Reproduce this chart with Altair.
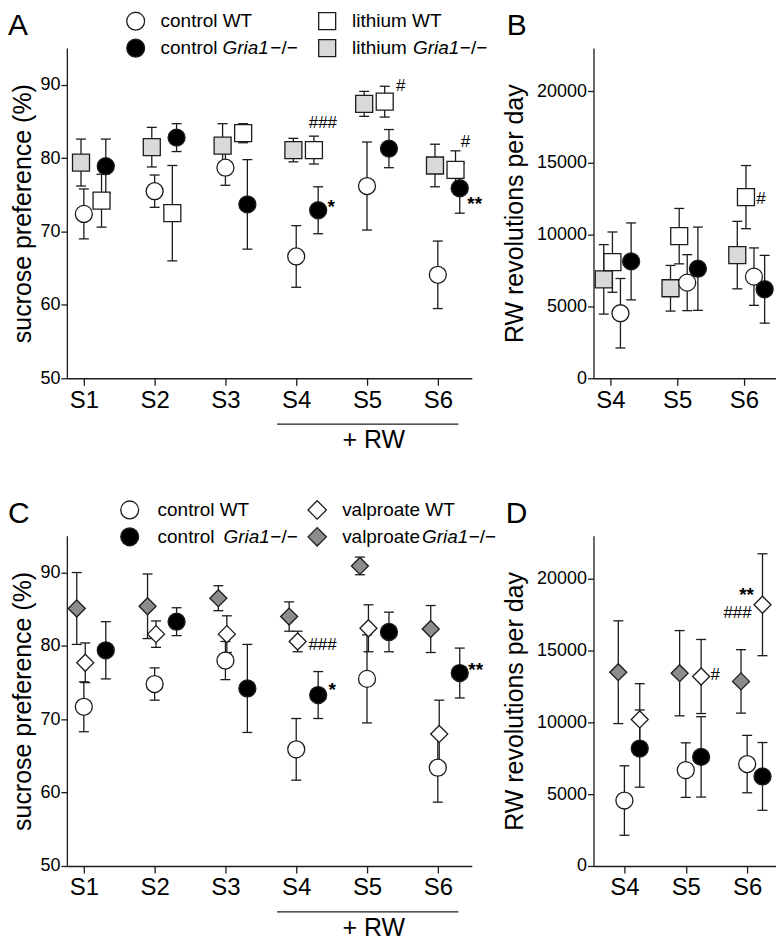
import altair as alt
import pandas as pd

FONT = "Liberation Sans"
INK = "#1c1c1c"

# ---------------- data ----------------
sessions = ["S1", "S2", "S3", "S4", "S5", "S6"]
rw_sessions = ["S4", "S5", "S6"]
rw_label = "+ RW"

group_labels = ["control WT", "control Gria1", "lithium WT", "lithium Gria1",
                "valproate WT", "valproate Gria1"]

# Panel A - sucrose preference (%), lithium experiment
a_control_wt = [72.4, 75.5, 78.7, 66.6, 76.2, 64.1]
a_control_wt_sem = [3.4, 2.2, 2.4, 4.2, 6.0, 4.6]
a_control_ko = [78.9, 82.8, 73.7, 72.9, 81.3, 75.9]
a_control_ko_sem = [3.7, 1.9, 6.1, 3.2, 2.6, 3.4]
a_lithium_wt = [74.2, 72.5, 83.4, 81.1, 87.7, 78.4]
a_lithium_wt_sem = [3.6, 6.5, 1.3, 1.9, 2.1, 2.6]
a_lithium_ko = [79.4, 81.5, 81.7, 81.1, 87.4, 79.0]
a_lithium_ko_sem = [3.2, 2.7, 3.0, 1.6, 1.7, 2.9]

# Panel B - RW revolutions per day, lithium experiment
b_control_wt = [4530, 6660, 7080]
b_control_wt_sem = [2420, 1950, 2000]
b_control_ko = [8140, 7630, 6200]
b_control_ko_sem = [2680, 2900, 2360]
b_lithium_wt = [8090, 9900, 12620]
b_lithium_wt_sem = [2100, 1930, 2200]
b_lithium_ko = [6890, 6270, 8580]
b_lithium_ko_sem = [2420, 1590, 2350]

# Panel C - sucrose preference (%), valproate experiment
c_control_wt = [71.7, 74.8, 78.0, 65.9, 75.5, 63.4]
c_control_wt_sem = [3.4, 2.2, 2.6, 4.2, 6.0, 4.7]
c_control_ko = [79.4, 83.3, 74.2, 73.3, 81.9, 76.3]
c_control_ko_sem = [3.9, 1.9, 6.0, 3.2, 2.7, 3.4]
c_valproate_wt = [77.7, 81.6, 81.6, 80.6, 82.4, 68.0]
c_valproate_wt_sem = [2.7, 1.8, 2.5, 1.4, 3.2, 4.6]
c_valproate_ko = [85.1, 85.4, 86.5, 84.0, 90.9, 82.3]
c_valproate_ko_sem = [4.9, 4.4, 1.7, 2.0, 1.2, 3.2]

# Panel D - RW revolutions per day, valproate experiment
d_control_wt = [4560, 6680, 7100]
d_control_wt_sem = [2420, 1900, 2000]
d_control_ko = [8180, 7600, 6240]
d_control_ko_sem = [2690, 2800, 2360]
d_valproate_wt = [10210, 13200, 18200]
d_valproate_wt_sem = [2490, 2580, 3550]
d_valproate_ko = [13500, 13430, 12860]
d_valproate_ko_sem = [3580, 2970, 2210]

pref_ticks = [50, 60, 70, 80, 90]
rw_ticks = [0, 5000, 10000, 15000, 20000]

# significance marks: (session, group, text)
a_sig = [("S4", "lithium WT", "###"), ("S5", "lithium WT", "#"), ("S6", "lithium WT", "#"),
         ("S4", "control Gria1", "*"), ("S6", "control Gria1", "**")]
b_sig = [("S6", "lithium WT", "#")]
c_sig = [("S4", "valproate WT", "###"), ("S4", "control Gria1", "*"), ("S6", "control Gria1", "**")]
d_sig = [("S5", "valproate WT", "#"), ("S6", "valproate WT", "**"), ("S6", "valproate WT", "###")]

# ---------------- styling / layout ----------------
STYLE = {
    "control WT": ("circle", "white"),
    "control Gria1": ("circle", "black"),
    "lithium WT": ("square", "white"),
    "lithium Gria1": ("square", "#d9d9d9"),
    "valproate WT": ("diamond", "white"),
    "valproate Gria1": ("diamond", "#8c8c8c"),
}
LEG_SIZE = {"circle": 320, "square": 290, "diamond": 340}
W_BIG, W_SMALL, H = 406, 183, 331

LABEL_EXPR = "[" + ",".join("'%s'" % s for s in sessions) + "][datum.value - 1]"
SHAPE_SCALE = alt.Scale(domain=group_labels, range=[STYLE[g][0] for g in group_labels])
FILL_SCALE = alt.Scale(domain=group_labels, range=[STYLE[g][1] for g in group_labels])


def build_df(sess, series, order, dodge):
    rows = []
    for g in order:
        means, sems = series[g]
        for s, m, e in zip(sess, means, sems):
            i = sessions.index(s) + 1
            rows.append({"group": g, "session": s, "pos": i + dodge[g],
                         "mean": m, "lo": m - e, "hi": m + e})
    return pd.DataFrame(rows)


def one():
    return pd.DataFrame({"k": [0]})


def txt(s, x, y, size=19, style="normal", align="left", baseline="middle", weight="normal"):
    return alt.Chart(one()).mark_text(
        font=FONT, fontSize=size, fontStyle=style, fontWeight=weight, align=align,
        baseline=baseline, color="black"
    ).encode(x=alt.value(x), y=alt.value(y), text=alt.value(s))


def leg_marker(group, x, y):
    shape, fill = STYLE[group]
    return alt.Chart(one()).mark_point(
        shape=shape, filled=True, fill=fill, stroke=INK, strokeWidth=1.3,
        size=LEG_SIZE[shape], opacity=1
    ).encode(x=alt.value(x), y=alt.value(y))


def legend(entries):
    layers = []
    for group, parts, mx, tx, y in entries:
        layers.append(leg_marker(group, mx, y))
        for text, style, px in parts:
            layers.append(txt(text, px if px is not None else tx, y, style=style))
    return layers


def panel(sess, series, order, dodge, xdom, ydom, yvals, ytitle, title_x, width,
          sig, sig_off, letter, letter_x, extra):
    df = build_df(sess, series, order, dodge)
    xs = alt.Scale(domain=xdom, nice=False, zero=False)
    ys = alt.Scale(domain=ydom, nice=False, zero=False)
    xticks = [sessions.index(s) + 1 for s in sess]
    xaxis = alt.Axis(values=xticks, labelExpr=LABEL_EXPR, title=None, labelFontSize=24,
                     labelPadding=3, tickSize=7, labelFlush=False, labelOverlap=False,
                     grid=False, domainColor=INK, domainWidth=1.3, tickColor=INK, tickWidth=1.3,
                     labelFont=FONT, labelColor="black")
    yaxis = alt.Axis(values=yvals, title=ytitle, titleX=title_x, titleBaseline="alphabetic",
                     titleFontSize=25, titleFontWeight="normal", labelFontSize=18,
                     labelPadding=1, tickSize=6, format="d", grid=False,
                     domainColor=INK, domainWidth=1.3, tickColor=INK, tickWidth=1.3,
                     labelFont=FONT, titleFont=FONT, labelColor="black", titleColor="black")

    def X(f):
        return alt.X(f"{f}:Q", scale=xs, axis=xaxis)

    def Y(f):
        return alt.Y(f"{f}:Q", scale=ys, axis=yaxis)

    base = alt.Chart(df)
    bars = base.mark_rule(color=INK, strokeWidth=1.3).encode(x=X("pos"), y=Y("lo"), y2=alt.Y2("hi"))
    caps = [
        base.mark_tick(orient="horizontal", size=10, thickness=1.3, color=INK, opacity=1).encode(
            x=X("pos"), y=Y(f))
        for f in ("lo", "hi")
    ]
    pts = base.mark_point(filled=True, stroke=INK, strokeWidth=1.3, size=290, opacity=1).encode(
        x=X("pos"), y=Y("mean"),
        shape=alt.Shape("group:N", scale=SHAPE_SCALE, legend=None),
        fill=alt.Fill("group:N", scale=FILL_SCALE, legend=None),
    )
    layers = [bars] + caps + [pts]
    for (s, g, t), (dx, dy) in zip(sig, sig_off):
        row = df[(df.session == s) & (df.group == g)]
        star = "*" in t
        layers.append(
            alt.Chart(row).mark_text(
                font=FONT, fontSize=19 if star else 17, fontWeight="bold" if star else "normal",
                align="center", baseline="middle", dx=dx, dy=dy + (5 if star else 0), color="black"
            ).encode(x=X("pos"), y=Y("mean"), text=alt.value(t))
        )
    if extra:
        i0 = sessions.index(rw_sessions[0]) + 1
        i1 = sessions.index(rw_sessions[-1]) + 1
        rw = pd.DataFrame({"start": [i0 - 0.27], "end": [i1 + 0.29], "label": [rw_label]})
        rw["mid"] = (rw.start + rw.end) / 2
        layers.append(alt.Chart(rw).mark_rule(color=INK, strokeWidth=1.3).encode(
            x=X("start"), x2=alt.X2("end"), y=alt.value(H + 46)))
        layers.append(alt.Chart(rw).mark_text(font=FONT, fontSize=25, baseline="middle", dx=6,
                                              color="black").encode(
            x=X("mid"), y=alt.value(H + 62), text="label:N"))
        layers += extra
    layers.append(txt(letter, letter_x, -37, size=30, baseline="top"))
    return alt.layer(*layers).properties(width=width, height=H)


A = panel(
    sessions,
    {"control WT": (a_control_wt, a_control_wt_sem), "control Gria1": (a_control_ko, a_control_ko_sem),
     "lithium WT": (a_lithium_wt, a_lithium_wt_sem), "lithium Gria1": (a_lithium_ko, a_lithium_ko_sem)},
    ["lithium Gria1", "lithium WT", "control WT", "control Gria1"],
    {"lithium Gria1": -0.04, "lithium WT": 0.25, "control WT": 0.0, "control Gria1": 0.31},
    [0.76, 6.48], [50, 95], pref_ticks, "sucrose preference (%)", -36, W_BIG,
    a_sig, [(9, -27), (16, -16), (10, -28), (13, -8), (15, 11)],
    "A", -59,
    legend([
        ("control WT", [("control WT", "normal", None)], 69, 94, -27),
        ("control Gria1", [("control ", "normal", 94), ("Gria1", "italic", 156), ("\u2212/\u2212", "normal", 204)], 69, 94, 0),
        ("lithium WT", [("lithium WT", "normal", None)], 261, 286, -27),
        ("lithium Gria1", [("lithium ", "normal", 286), ("Gria1", "italic", 347), ("\u2212/\u2212", "normal", 394)], 261, 286, 0),
    ]),
)

B = panel(
    rw_sessions,
    {"control WT": (b_control_wt, b_control_wt_sem), "control Gria1": (b_control_ko, b_control_ko_sem),
     "lithium WT": (b_lithium_wt, b_lithium_wt_sem), "lithium Gria1": (b_lithium_ko, b_lithium_ko_sem)},
    ["lithium Gria1", "lithium WT", "control WT", "control Gria1"],
    {"lithium Gria1": -0.10, "lithium WT": 0.03, "control WT": 0.15, "control Gria1": 0.31},
    [3.746, 6.48], [0, 23000], rw_ticks, "RW revolutions per day", -71, W_SMALL,
    b_sig, [(15, 2)],
    "B", -87, None,
)

C = panel(
    sessions,
    {"control WT": (c_control_wt, c_control_wt_sem), "control Gria1": (c_control_ko, c_control_ko_sem),
     "valproate WT": (c_valproate_wt, c_valproate_wt_sem), "valproate Gria1": (c_valproate_ko, c_valproate_ko_sem)},
    ["valproate Gria1", "valproate WT", "control WT", "control Gria1"],
    {"valproate Gria1": -0.10, "valproate WT": 0.02, "control WT": 0.0, "control Gria1": 0.31},
    [0.76, 6.48], [50, 95], pref_ticks, "sucrose preference (%)", -36, W_BIG,
    c_sig, [(25, 4), (14, -10), (16, -8)],
    "C", -59,
    legend([
        ("control WT", [("control WT", "normal", None)], 63, 91, -26),
        ("control Gria1", [("control", "normal", 91), ("Gria1", "italic", 157), ("\u2212/\u2212", "normal", 204)], 63, 91, 1),
        ("valproate WT", [("valproate WT", "normal", None)], 251, 276, -26),
        ("valproate Gria1", [("valproate", "normal", 276), ("Gria1", "italic", 356), ("\u2212/\u2212", "normal", 403)], 251, 276, 1),
    ]),
)

D = panel(
    rw_sessions,
    {"control WT": (d_control_wt, d_control_wt_sem), "control Gria1": (d_control_ko, d_control_ko_sem),
     "valproate WT": (d_valproate_wt, d_valproate_wt_sem), "valproate Gria1": (d_valproate_ko, d_valproate_ko_sem)},
    ["valproate Gria1", "valproate WT", "control WT", "control Gria1"],
    {"valproate Gria1": -0.10, "valproate WT": 0.25, "control WT": 0.0, "control Gria1": 0.25},
    [3.496, 6.47], [0, 23000], rw_ticks, "RW revolutions per day", -71, W_SMALL,
    d_sig, [(14, -2), (-16, -15), (-25, 8)],
    "D", -88, None,
)

chart = alt.concat(A, B, C, D, columns=2).properties(
    padding=0, bounds="flush", align="each", spacing={"row": 158, "column": 122}
).configure_view(stroke=None)

chart.save("out.html", embed_options={"renderer": "svg", "actions": False})
